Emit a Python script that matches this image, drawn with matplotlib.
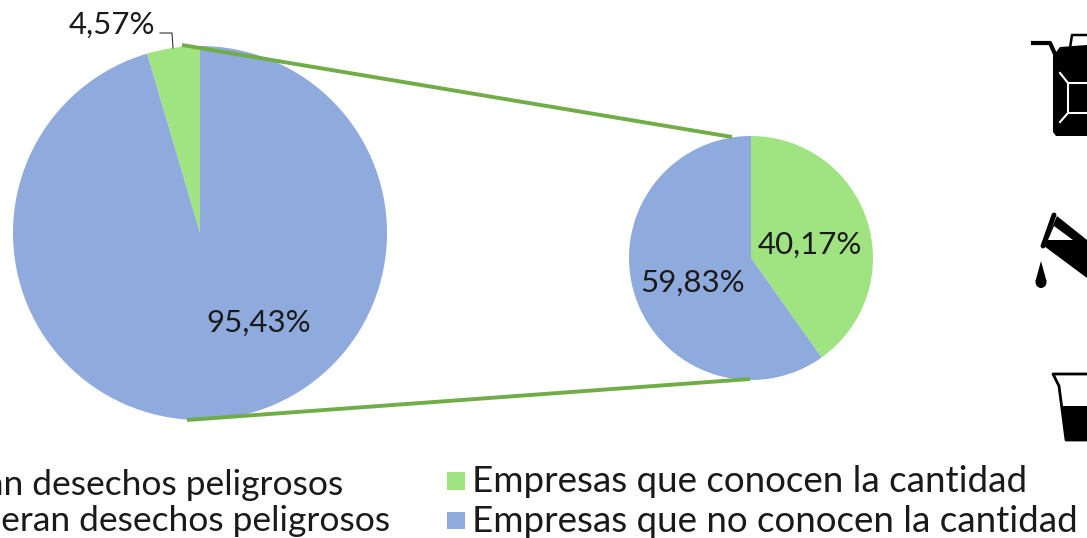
import matplotlib

matplotlib.use("Agg")
import matplotlib.pyplot as plt
from matplotlib.patches import Ellipse, Polygon, Rectangle

W, H = 1087, 538

# Datos
generan = [4.57, 95.43]
conocen = [40.17, 59.83]
leyenda_izq = [
  "Empresas que generan desechos peligrosos",
  "Empresas que no generan desechos peligrosos",
]
leyenda_der = [
  "Empresas que conocen la cantidad",
  "Empresas que no conocen la cantidad",
]

VERDE = "#9FE480"
AZUL = "#8FAADC"
LINEA = "#70AD47"
TEXTO = "#1a1a1a"

plt.rcParams["font.family"] = ["Lato", "DejaVu Sans"]


# Convierte y de pixeles (desde arriba) a coordenadas del eje
def py(y):
  return H - y


def etiqueta(ax, x, y, texto, size=22.5, **kwargs):
  ax.text(x, py(y), texto, fontsize=size, color=TEXTO, va="baseline", **kwargs)


def pct(valor):
  return f"{valor:.2f}%".replace(".", ",")


fig = plt.figure(figsize=(W / 100, H / 100), dpi=100)
ax = fig.add_axes([0, 0, 1, 1])

ax.pie(
  generan,
  colors=[VERDE, AZUL],
  startangle=90,
  center=(200, py(233)),
  radius=187,
  wedgeprops={"linewidth": 0},
)
ax.pie(
  conocen,
  colors=[VERDE, AZUL],
  startangle=90,
  counterclock=False,
  center=(751, py(258)),
  radius=122,
  wedgeprops={"linewidth": 0},
)
ax.set_xlim(0, W)
ax.set_ylim(0, H)
ax.set_aspect("equal")
ax.axis("off")

# Lineas que unen los dos pasteles
ax.plot([182, 732], [py(45), py(137)], color=LINEA, lw=2.8, solid_capstyle="butt")
ax.plot([187, 750], [py(420), py(379)], color=LINEA, lw=2.8, solid_capstyle="butt")
ax.plot([160, 172, 173], [py(33), py(33), py(48)], color="#333333", lw=0.8)

# Etiquetas de los porcentajes
etiqueta(ax, 112, 34, pct(generan[0]), ha="center")
etiqueta(ax, 259, 332, pct(generan[1]), ha="center")
etiqueta(ax, 810, 254, pct(conocen[0]), ha="center")
etiqueta(ax, 693, 292, pct(conocen[1]), ha="center")

# Leyendas
etiqueta(ax, 343, 495, leyenda_izq[0], size=25.5, ha="right")
etiqueta(ax, 390, 531, leyenda_izq[1], size=25.5, ha="right")
etiqueta(ax, 472, 492, leyenda_der[0], size=26.5, ha="left")
etiqueta(ax, 472, 532, leyenda_der[1], size=26.5, ha="left")
ax.add_patch(Rectangle((447, py(490)), 18, 18, color=VERDE, lw=0))
ax.add_patch(Rectangle((447, py(529)), 18, 17, color=AZUL, lw=0))

# Iconos: bidon
ax.add_patch(Polygon(
  [(1053, py(56)), (1060, py(47)), (1087, py(45)), (1087, py(136)), (1056, py(136)), (1053, py(132))],
  color="black", lw=0,
))
ax.plot([1033, 1050, 1055], [py(43), py(43), py(54)], color="black", lw=3)
ax.plot([1070, 1072, 1087], [py(48), py(35), py(35)], color="black", lw=1.8)
ax.plot([1087, 1068, 1068, 1087], [py(83), py(83), py(113), py(113)], color="white", lw=1.5)
ax.plot([1060, 1068], [py(73), py(83)], color="white", lw=1.5)
ax.plot([1060, 1068], [py(122), py(113)], color="white", lw=1.5)

# Iconos: frasco y gota
ax.add_patch(Polygon(
  [(1057, py(216)), (1087, py(240)), (1087, py(278)), (1044, py(246))],
  color="black", lw=0,
))
ax.plot([1054, 1043], [py(215), py(246)], color="black", lw=3.5, solid_capstyle="round")
ax.add_patch(Polygon([(1054, py(226)), (1048, py(240)), (1073, py(240))], color="white", lw=0))
ax.add_patch(Ellipse((1041, py(282)), 11, 12, color="black", lw=0))
ax.add_patch(Polygon([(1041, py(261)), (1035.5, py(281)), (1046.5, py(281))], color="black", lw=0))

# Iconos: vaso de medida
ax.plot([1087, 1053, 1059, 1066, 1087], [py(374), py(374), py(386), py(440), py(440)], color="black", lw=2)
ax.add_patch(Polygon([(1062, py(406)), (1087, py(406)), (1087, py(441)), (1067, py(441))], color="black", lw=0))

fig.savefig("out.png", dpi=100)
